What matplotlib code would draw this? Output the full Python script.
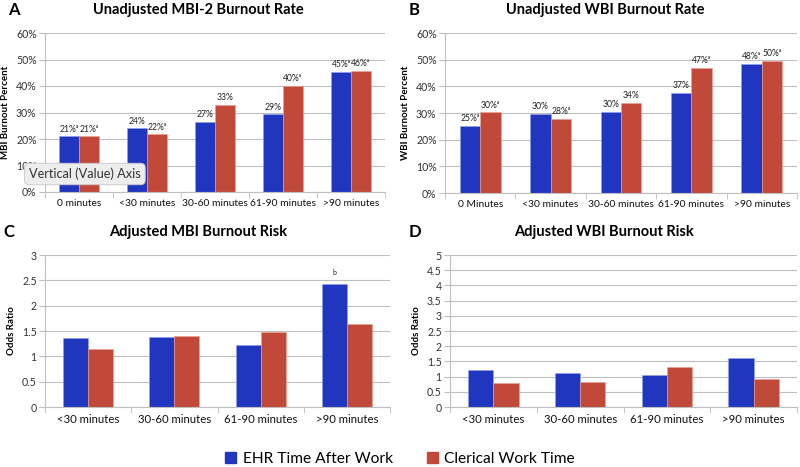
import numpy as np
import matplotlib
matplotlib.use("Agg")
import matplotlib.pyplot as plt

plt.rcParams['font.family'] = ['Lato', 'DejaVu Sans']

# data
cats_a = ['0 minutes', '<30 minutes', '30-60 minutes', '61-90 minutes', '>90 minutes']
cats_b = ['0 Minutes', '<30 minutes', '30-60 minutes', '61-90 minutes', '>90 minutes']
cats_cd = ['<30 minutes', '30-60 minutes', '61-90 minutes', '>90 minutes']

SUP = 'ᵃ'
mbi_ehr = [21.0, 24.0, 26.5, 29.3, 45.3]
mbi_cler = [21.0, 21.7, 33.0, 40.0, 45.6]
mbi_ehr_lbl = ['21%' + SUP, '24%', '27%', '29%', '45%' + SUP]
mbi_cler_lbl = ['21%' + SUP, '22%' + SUP, '33%', '40%' + SUP, '46%' + SUP]

wbi_ehr = [25.2, 29.8, 30.3, 37.4, 48.3]
wbi_cler = [30.2, 27.9, 33.8, 46.9, 49.5]
wbi_ehr_lbl = ['25%' + SUP, '30%', '30%', '37%', '48%' + SUP]
wbi_cler_lbl = ['30%' + SUP, '28%' + SUP, '34%', '47%' + SUP, '50%' + SUP]

mbi_or_ehr = [1.37, 1.39, 1.23, 2.43]
mbi_or_cler = [1.15, 1.41, 1.48, 1.64]
wbi_or_ehr = [1.23, 1.13, 1.05, 1.62]
wbi_or_cler = [0.78, 0.83, 1.32, 0.93]

BLUE = '#2136BF'
RED = '#C14939'
GRID = '#BFBFBF'

W, H = 800, 467
fig = plt.figure(figsize=(W / 100, H / 100), dpi=100)


def px_axes(l, t, r, b):
    return fig.add_axes([l / W, 1 - b / H, (r - l) / W, (b - t) / H])


def setup(ax, cats, ylim, yticks, yfmt, ylabel, xfs):
    n = len(cats)
    ax.set_xlim(-0.5, n - 0.5)
    ax.set_ylim(*ylim)
    ax.set_yticks(yticks)
    ax.set_yticklabels([yfmt(v) for v in yticks], fontsize=7.6, color='#333333')
    ax.set_xticks(range(n))
    ax.set_xticklabels(cats, fontsize=xfs, color='#111111')
    ax.set_xticks(np.arange(-0.5, n, 1), minor=True)
    ax.tick_params(axis='x', which='major', length=0, pad=5)
    ax.tick_params(axis='x', which='minor', length=4, color=GRID)
    ax.tick_params(axis='y', length=4, color=GRID, pad=2)
    ax.grid(axis='y', color=GRID, linewidth=0.8)
    ax.set_axisbelow(True)
    for s in ['top', 'right']:
        ax.spines[s].set_visible(False)
    for s in ['left', 'bottom']:
        ax.spines[s].set_color(GRID)
        ax.spines[s].set_linewidth(0.8)
    ax.set_ylabel(ylabel, fontsize=7, fontweight='bold', labelpad=4)


def bars(ax, ehr, cler, w=0.29):
    x = np.arange(len(ehr))
    b1 = ax.bar(x - w / 2, ehr, w, color=BLUE, edgecolor='#8FA0F0', linewidth=0.4)
    b2 = ax.bar(x + w / 2, cler, w, color=RED, edgecolor='#F0A090', linewidth=0.4)
    return b1, b2


pct = lambda v: '%d%%' % v

# A
axA = px_axes(45, 33, 385, 192)
setup(axA, cats_a, (0, 60), range(0, 61, 10), pct, 'MBI Burnout Percent', 7.4)
b1, b2 = bars(axA, mbi_ehr, mbi_cler)
axA.bar_label(b1, labels=mbi_ehr_lbl, fontsize=6.2, padding=2, color='#222222')
axA.bar_label(b2, labels=mbi_cler_lbl, fontsize=6.2, padding=2, color='#222222')

# B
axB = px_axes(445, 33, 797, 193)
setup(axB, cats_b, (0, 60), range(0, 61, 10), pct, 'WBI Burnout Percent', 7.4)
b1, b2 = bars(axB, wbi_ehr, wbi_cler)
axB.bar_label(b1, labels=wbi_ehr_lbl, fontsize=6.2, padding=2, color='#222222')
axB.bar_label(b2, labels=wbi_cler_lbl, fontsize=6.2, padding=2, color='#222222')

fmt = lambda v: ('%g' % v)

# C
axC = px_axes(45, 255, 390, 407)
setup(axC, cats_cd, (0, 3), np.arange(0, 3.01, 0.5), fmt, 'Odds Ratio', 8.2)
b1, b2 = bars(axC, mbi_or_ehr, mbi_or_cler)
axC.bar_label(b1, labels=['', '', '', 'b'], fontsize=5, padding=6, color='#222222')

# D
axD = px_axes(450, 255, 797, 407)
setup(axD, cats_cd, (0, 5), np.arange(0, 5.01, 0.5), fmt, 'Odds Ratio', 8.2)
bars(axD, wbi_or_ehr, wbi_or_cler)

# titles and panel letters
titles = [('A', 'Unadjusted MBI-2 Burnout Rate', 8, 198, 10),
          ('B', 'Unadjusted WBI Burnout Rate', 409, 605, 10),
          ('C', 'Adjusted MBI Burnout Risk', 3, 198, 232),
          ('D', 'Adjusted WBI Burnout Risk', 409, 604, 232)]
for letter, t, lx, tx, ty in titles:
    fig.text(lx / W, 1 - ty / H, letter, fontsize=12, fontweight='bold',
             ha='left', va='center')
    fig.text(tx / W, 1 - ty / H, t, fontsize=10.5, fontweight='bold',
             ha='center', va='center')

# tooltip box seen in the screenshot (sits over the 10% tick label)
fig.text(29 / W, 1 - 174 / H, 'Vertical (Value) Axis', fontsize=9.2, color='#333333',
         ha='left', va='center', zorder=10,
         bbox=dict(boxstyle='round,pad=0.35', facecolor='#EDEDED', edgecolor='#C8C8C8',
                   linewidth=0.6))

# legend
handles = [plt.Rectangle((0, 0), 1, 1, color=BLUE), plt.Rectangle((0, 0), 1, 1, color=RED)]
fig.legend(handles, ['EHR Time After Work', 'Clerical Work Time'], loc='center',
           bbox_to_anchor=(400 / W, 1 - 459 / H), ncol=2, frameon=False, fontsize=11.2,
           handlelength=0.7, handleheight=0.7, handletextpad=0.4, columnspacing=2.2)

fig.savefig('out.png', dpi=100)
